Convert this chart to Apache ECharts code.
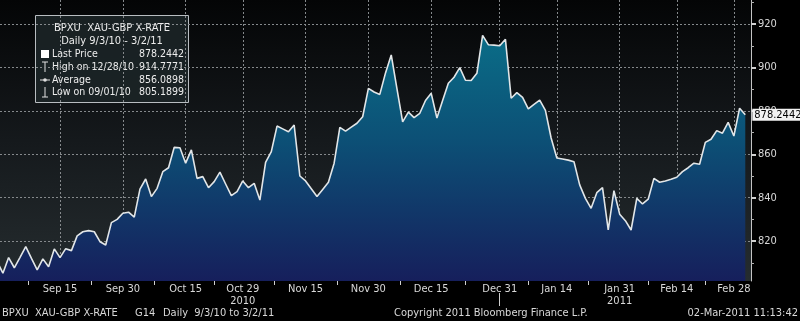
<!DOCTYPE html>
<html><head><meta charset="utf-8">
<script src="https://cdn.jsdelivr.net/npm/echarts@6/dist/echarts.min.js"></script>
<style>html,body{margin:0;padding:0;background:#000}#c{width:800px;height:321px}</style>
</head><body><div id="c"></div>
<script>
// ---- categories: trading weekdays 31 Aug 2010 .. 2 Mar 2011 ----
const firstDate = '2010-08-31';
const lastDate = '2011-03-02';
const dates = [];
for (let d = new Date(firstDate + 'T00:00:00Z'); d <= new Date(lastDate + 'T00:00:00Z'); d.setUTCDate(d.getUTCDate() + 1)) {
  const wd = d.getUTCDay();
  if (wd === 0 || wd === 6) continue;
  dates.push(d.toISOString().slice(0, 10));
}

// ---- series values (XAU-GBP, one per weekday) ----
const prices = [
  810.5, 805.1899, 812.4, 807.7, 812.5, 817.4, 812.0, 806.7, 811.8, 808.2,
  816.4, 812.4, 816.5, 815.6, 822.4, 824.3, 824.8, 824.3, 819.7, 818.2,
  828.5, 830.0, 832.8, 833.3, 831.0, 843.9, 848.6, 840.5, 844.3, 852.0,
  853.8, 863.2, 863.0, 855.9, 862.0, 848.9, 849.7, 844.6, 847.4, 851.8,
  846.3, 840.9, 842.8, 847.7, 844.6, 846.6, 838.9, 856.3, 861.2, 873.0,
  871.7, 870.4, 873.5, 850.0, 847.7, 844.1, 840.5, 843.8, 847.1, 855.9,
  872.4, 870.7, 872.5, 874.3, 877.3, 890.4, 888.7, 887.6, 897.5, 905.8,
  890.3, 874.9, 879.4, 876.9, 878.9, 884.8, 888.1, 876.7, 884.8, 892.7,
  895.5, 899.9, 894.1, 894.0, 897.3, 914.7771, 910.5, 910.3, 910.0, 913.0,
  885.8, 888.4, 886.2, 880.9, 883.0, 885.0, 880.2, 867.5, 858.3, 857.8,
  857.3, 856.6, 845.9, 839.7, 835.1, 842.3, 844.6, 825.1, 843.2, 832.4,
  829.4, 825.1, 839.7, 837.1, 839.3, 848.9, 847.1, 847.7, 848.5, 849.4,
  852.0, 853.8, 855.9, 855.4, 865.5, 866.9, 870.9, 869.7, 874.7, 868.4,
  881.2, 878.2442
];

// ---- tick labels ----
const labelDates = ['2010-09-15','2010-09-30','2010-10-15','2010-10-29','2010-11-15','2010-11-30',
                    '2010-12-15','2010-12-31','2011-01-14','2011-01-31','2011-02-14','2011-02-28'];
const labelTexts = ['Sep 15','Sep 30','Oct 15','Oct 29','Nov 15','Nov 30',
                    'Dec 15','Dec 31','Jan 14','Jan 31','Feb 14','Feb 28'];
const yearLabelDates = ['2010-10-29','2011-01-31'];
const yearLabelTexts = ['2010','2011'];
const yearEndDate = '2010-12-31';
const yLabelValues = [820, 840, 860, 880, 900, 920];
const yMinorValues = [810, 830, 850, 870, 890, 910, 930];

// ---- legend / footer texts ----
const legendTitle = 'BPXU  XAU-GBP X-RATE';
const legendSubtitle = 'Daily 9/3/10 - 3/2/11';
const legendNames = ['Last Price', 'High on 12/28/10', 'Average', 'Low on 09/01/10'];
const legendValues = ['878.2442', '914.7771', '856.0898', '805.1899'];
const footerLeft = ['BPXU  XAU-GBP X-RATE', 'G14', 'Daily  9/3/10 to 3/2/11'];
const footerMid = 'Copyright 2011 Bloomberg Finance L.P.';
const footerRight = '02-Mar-2011 11:13:42';

const FONT = '"DejaVu Sans Condensed", "Liberation Sans Narrow", "DejaVu Sans", sans-serif';
const TXT = '#d9d9d9';

const labelIdx = labelDates.map(d => dates.indexOf(d));
const midTicks = [labelIdx[0] / 2];
for (let i = 1; i < labelIdx.length; i++) midTicks.push((labelIdx[i - 1] + labelIdx[i]) / 2);
const yearEndIdx = dates.indexOf(yearEndDate);

function xLabel(v) {
  const d = dates[Math.round(v)];
  const i = labelDates.indexOf(d);
  if (i < 0) return '';
  const y = yearLabelDates.indexOf(d);
  return y >= 0 ? labelTexts[i] + '\n' + yearLabelTexts[y] : labelTexts[i];
}

const X_MIN = 0.49, X_MAX = 132.0;
const Y_MIN = 801.6, Y_MAX = 931.1;
const dotted = { color: '#85898c', type: [2, 2], width: 1 };

const chart = echarts.init(document.getElementById('c'), null, { renderer: 'canvas' });

const legendRowsY = [54, 67, 80, 92];
const legendGraphics = [
  { type: 'rect', shape: { x: 35.5, y: 15.5, width: 153, height: 87 },
    style: { fill: 'rgba(27,35,38,0.93)', stroke: '#b8bdc1', lineWidth: 1 } },
  { type: 'text', x: 112, y: 28, style: { text: legendTitle, fill: '#ececec', font: '11px ' + FONT, align: 'center', verticalAlign: 'middle' } },
  { type: 'text', x: 112, y: 41, style: { text: legendSubtitle, fill: '#ececec', font: '11px ' + FONT, align: 'center', verticalAlign: 'middle' } },
  // symbols
  { type: 'rect', shape: { x: 41, y: 50, width: 8, height: 8 }, style: { fill: '#ffffff' } },
  { type: 'line', shape: { x1: 45, y1: 62, x2: 45, y2: 72 }, style: { stroke: '#e0e0e0', lineWidth: 1 } },
  { type: 'line', shape: { x1: 42, y1: 62, x2: 48, y2: 62 }, style: { stroke: '#e0e0e0', lineWidth: 1 } },
  { type: 'line', shape: { x1: 40, y1: 80, x2: 50, y2: 80 }, style: { stroke: '#e0e0e0', lineWidth: 1 } },
  { type: 'circle', shape: { cx: 45, cy: 80, r: 1.8 }, style: { fill: '#e0e0e0' } },
  { type: 'line', shape: { x1: 45, y1: 87, x2: 45, y2: 97 }, style: { stroke: '#e0e0e0', lineWidth: 1 } },
  { type: 'line', shape: { x1: 42, y1: 97, x2: 48, y2: 97 }, style: { stroke: '#e0e0e0', lineWidth: 1 } }
];
legendNames.forEach((n, i) => {
  legendGraphics.push({ type: 'text', x: 52, y: legendRowsY[i], style: { text: n, fill: '#ececec', font: '10.5px ' + FONT, align: 'left', verticalAlign: 'middle' } });
  legendGraphics.push({ type: 'text', x: 184, y: legendRowsY[i], style: { text: legendValues[i], fill: '#ececec', font: '10.5px ' + FONT, align: 'right', verticalAlign: 'middle' } });
});
const footerGraphics = [
  { type: 'text', x: 2, y: 313, style: { text: footerLeft[0], fill: TXT, font: '11px ' + FONT, verticalAlign: 'middle' } },
  { type: 'text', x: 135, y: 313, style: { text: footerLeft[1], fill: TXT, font: '11px ' + FONT, verticalAlign: 'middle' } },
  { type: 'text', x: 163, y: 313, style: { text: footerLeft[2], fill: TXT, font: '11px ' + FONT, verticalAlign: 'middle' } },
  { type: 'text', x: 394, y: 313, style: { text: footerMid, fill: TXT, font: '11px ' + FONT, verticalAlign: 'middle' } },
  { type: 'text', x: 798, y: 313, style: { text: footerRight, fill: TXT, font: '11px ' + FONT, align: 'right', verticalAlign: 'middle' } }
];

const option = {
  backgroundColor: '#000000',
  animation: false,
  textStyle: { fontFamily: FONT },
  grid: {
    left: 0, right: 49, top: 0, bottom: 40, show: true, borderWidth: 0,
    backgroundColor: new echarts.graphic.LinearGradient(0, 0, 0, 1, [
      { offset: 0, color: '#040506' },
      { offset: 0.5, color: '#15191c' },
      { offset: 1, color: '#252c2f' }
    ])
  },
  xAxis: [
    {
      type: 'value', min: X_MIN, max: X_MAX, position: 'bottom',
      axisLine: { show: false },
      axisTick: { show: false, customValues: labelIdx },
      axisLabel: { customValues: labelIdx, formatter: xLabel, color: TXT, fontSize: 11, margin: 2, lineHeight: 12, fontFamily: FONT },
      splitLine: { show: true, lineStyle: dotted }
    },
    {
      type: 'value', min: X_MIN, max: X_MAX, position: 'bottom',
      axisLine: { show: false },
      axisTick: { show: true, customValues: midTicks, length: 4, lineStyle: { color: '#cfcfcf' } },
      axisLabel: { show: false },
      splitLine: { show: false }
    },
    {
      type: 'value', min: X_MIN, max: X_MAX, position: 'bottom', offset: 12,
      axisLine: { show: false },
      axisTick: { show: true, customValues: [yearEndIdx], length: 13, lineStyle: { color: '#cfcfcf' } },
      axisLabel: { show: false },
      splitLine: { show: false }
    }
  ],
  yAxis: [
    {
      type: 'value', min: Y_MIN, max: Y_MAX, position: 'right',
      axisLine: { show: true, lineStyle: { color: '#c4c4c4', width: 1 } },
      axisTick: { show: true, customValues: yLabelValues, length: 5, lineStyle: { color: '#d0d0d0', width: 2 } },
      axisLabel: { customValues: yLabelValues, color: TXT, fontSize: 11, margin: 7, fontFamily: FONT },
      splitLine: { show: true, lineStyle: dotted }
    },
    {
      type: 'value', min: Y_MIN, max: Y_MAX, position: 'right',
      axisLine: { show: false },
      axisTick: { show: true, customValues: yMinorValues, length: 3, lineStyle: { color: '#b0b0b0' } },
      axisLabel: { show: false },
      splitLine: { show: false }
    }
  ],
  series: [{
    type: 'line',
    xAxisIndex: 0, yAxisIndex: 0,
    data: prices.map((v, i) => [i, v]),
    symbol: 'none',
    clip: true,
    z: 5,
    lineStyle: { color: '#e2e6e8', width: 1.6 },
    areaStyle: {
      opacity: 1,
      color: new echarts.graphic.LinearGradient(0, 24, 0, 281, [
        { offset: 0, color: '#0a7089' },
        { offset: 0.45, color: '#0c5076' },
        { offset: 1, color: '#161f5c' }
      ], true)
    },
    endLabel: {
      show: true,
      formatter: p => p.value[1].toFixed(4),
      color: '#000', backgroundColor: '#f2f2f2', fontSize: 11, fontFamily: FONT,
      padding: [1, 2, 0, 2], distance: 7
    }
  }],
  graphic: legendGraphics.concat(footerGraphics)
};
chart.setOption(option);
</script></body></html>
